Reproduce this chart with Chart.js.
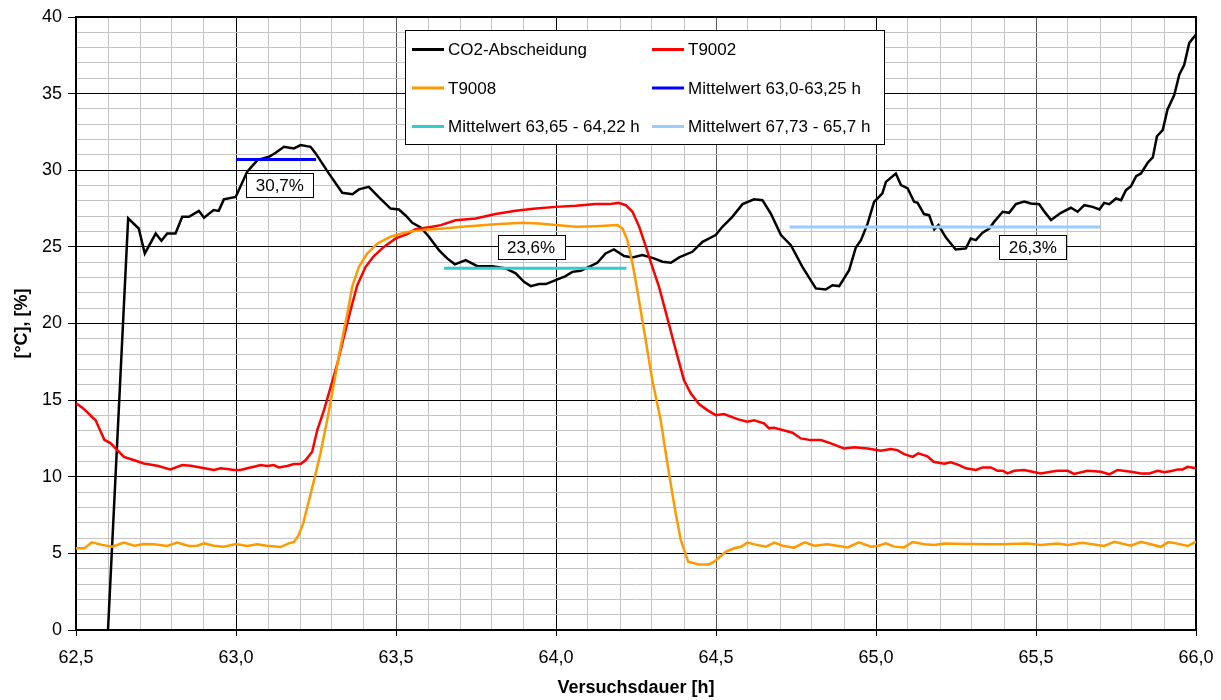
<!DOCTYPE html>
<html>
<head>
<meta charset="utf-8">
<script src="https://cdn.jsdelivr.net/npm/chart.js@4.4.0/dist/chart.umd.min.js"></script>
<style>
  body { margin: 0; background: #fff; }
  #wrap { width: 1221px; height: 700px; }
</style>
</head>
<body>
<div id="wrap"><canvas id="chart" width="1221" height="700"></canvas></div>
<script>
// CO2-Abscheidung [%]
const co2X = [62.600, 62.663, 62.696, 62.715, 62.749, 62.767, 62.785, 62.811, 62.832, 62.853,
  62.884, 62.900, 62.930, 62.946, 62.962, 62.999, 63.035, 63.067, 63.103, 63.124,
  63.150, 63.181, 63.202, 63.233, 63.249, 63.290, 63.332, 63.364, 63.384, 63.415,
  63.447, 63.483, 63.509, 63.530, 63.551, 63.577, 63.603, 63.634, 63.660, 63.684,
  63.718, 63.754, 63.801, 63.843, 63.874, 63.900, 63.921, 63.947, 63.968, 63.999,
  64.030, 64.051, 64.077, 64.103, 64.129, 64.155, 64.181, 64.213, 64.239, 64.270,
  64.306, 64.333, 64.359, 64.385, 64.426, 64.458, 64.499, 64.520, 64.551, 64.583,
  64.619, 64.645, 64.671, 64.703, 64.734, 64.770, 64.812, 64.843, 64.864, 64.885,
  64.916, 64.937, 64.953, 64.974, 64.994, 65.020, 65.031, 65.062, 65.078, 65.099,
  65.119, 65.130, 65.150, 65.166, 65.182, 65.195, 65.218, 65.249, 65.281, 65.296,
  65.312, 65.333, 65.354, 65.369, 65.396, 65.416, 65.437, 65.463, 65.484, 65.510,
  65.528, 65.547, 65.578, 65.609, 65.630, 65.651, 65.677, 65.698, 65.713, 65.729,
  65.750, 65.766, 65.781, 65.797, 65.813, 65.828, 65.849, 65.865, 65.878, 65.896,
  65.911, 65.932, 65.948, 65.963, 65.979, 66.000];
const co2Y = [0.00, 26.86, 26.20, 24.57, 25.87, 25.40, 25.87, 25.87, 26.96, 26.96,
  27.35, 26.90, 27.40, 27.35, 28.10, 28.26, 29.90, 30.66, 30.88, 31.14,
  31.53, 31.42, 31.64, 31.53, 31.10, 29.80, 28.53, 28.44, 28.75, 28.92,
  28.23, 27.50, 27.44, 27.05, 26.57, 26.27, 25.66, 24.79, 24.25, 23.86,
  24.14, 23.74, 23.74, 23.59, 23.27, 22.72, 22.44, 22.57, 22.57, 22.83,
  23.09, 23.37, 23.44, 23.70, 23.96, 24.57, 24.83, 24.40, 24.31, 24.46,
  24.25, 24.03, 23.96, 24.31, 24.68, 25.33, 25.77, 26.31, 26.96, 27.79,
  28.10, 28.05, 27.18, 25.77, 25.11, 23.70, 22.29, 22.22, 22.50, 22.44,
  23.48, 24.96, 25.44, 26.53, 27.94, 28.49, 29.24, 29.79, 29.03, 28.81,
  27.94, 27.87, 27.14, 27.07, 26.14, 26.42, 25.62, 24.83, 24.90, 25.55,
  25.44, 25.92, 26.20, 26.63, 27.29, 27.22, 27.79, 27.96, 27.83, 27.78,
  27.25, 26.75, 27.22, 27.55, 27.29, 27.72, 27.61, 27.44, 27.87, 27.79,
  28.16, 28.05, 28.70, 28.96, 29.62, 29.79, 30.49, 30.84, 32.22, 32.62,
  33.97, 34.90, 36.25, 36.86, 38.31, 38.85];

// T9002 [°C]
const t9002X = [62.500, 62.520, 62.536, 62.550, 62.561, 62.576, 62.589, 62.608, 62.629, 62.650,
  62.680, 62.712, 62.754, 62.795, 62.832, 62.859, 62.889, 62.931, 62.952, 62.973,
  62.993, 63.014, 63.035, 63.056, 63.077, 63.097, 63.118, 63.134, 63.160, 63.181,
  63.202, 63.218, 63.238, 63.254, 63.275, 63.296, 63.317, 63.337, 63.358, 63.379,
  63.405, 63.431, 63.462, 63.499, 63.535, 63.561, 63.608, 63.640, 63.686, 63.749,
  63.811, 63.874, 63.937, 63.999, 64.062, 64.124, 64.166, 64.195, 64.218, 64.239,
  64.260, 64.281, 64.301, 64.322, 64.345, 64.370, 64.400, 64.421, 64.447, 64.473,
  64.499, 64.525, 64.567, 64.598, 64.619, 64.650, 64.666, 64.681, 64.708, 64.739,
  64.765, 64.796, 64.828, 64.859, 64.900, 64.932, 64.974, 65.015, 65.046, 65.067,
  65.088, 65.115, 65.132, 65.161, 65.180, 65.213, 65.234, 65.260, 65.281, 65.312,
  65.333, 65.359, 65.380, 65.396, 65.411, 65.432, 65.463, 65.489, 65.515, 65.546,
  65.567, 65.599, 65.619, 65.661, 65.703, 65.729, 65.755, 65.797, 65.828, 65.854,
  65.880, 65.901, 65.927, 65.943, 65.958, 65.974, 66.000];
const t9002Y = [14.80, 14.50, 14.20, 13.90, 13.70, 13.00, 12.40, 12.20, 11.74, 11.30,
  11.09, 10.87, 10.72, 10.48, 10.76, 10.72, 10.61, 10.44, 10.55, 10.51,
  10.44, 10.44, 10.55, 10.65, 10.76, 10.70, 10.76, 10.61, 10.70, 10.83,
  10.83, 11.09, 11.63, 13.05, 14.35, 15.87, 17.40, 19.13, 20.87, 22.50,
  23.70, 24.40, 25.00, 25.55, 25.83, 26.15, 26.30, 26.42, 26.74, 26.85,
  27.14, 27.35, 27.50, 27.61, 27.68, 27.79, 27.79, 27.87, 27.72, 27.29,
  26.31, 25.00, 23.70, 22.39, 20.60, 18.60, 16.30, 15.44, 14.74, 14.35,
  14.02, 14.09, 13.76, 13.59, 13.68, 13.48, 13.16, 13.20, 13.05, 12.87,
  12.50, 12.39, 12.39, 12.18, 11.85, 11.92, 11.85, 11.70, 11.81, 11.74,
  11.48, 11.30, 11.53, 11.33, 10.98, 10.85, 10.94, 10.76, 10.55, 10.44,
  10.61, 10.61, 10.39, 10.39, 10.22, 10.39, 10.44, 10.33, 10.22, 10.33,
  10.39, 10.39, 10.18, 10.39, 10.33, 10.16, 10.44, 10.33, 10.22, 10.22,
  10.39, 10.29, 10.39, 10.48, 10.48, 10.65, 10.55];

// T9008 [°C]
const t9008X = [62.500, 62.526, 62.550, 62.578, 62.613, 62.650, 62.682, 62.712, 62.744, 62.785,
  62.816, 62.853, 62.879, 62.900, 62.931, 62.962, 62.999, 63.035, 63.066, 63.097,
  63.139, 63.165, 63.181, 63.195, 63.210, 63.223, 63.244, 63.264, 63.285, 63.306,
  63.327, 63.348, 63.363, 63.384, 63.410, 63.442, 63.483, 63.535, 63.598, 63.640,
  63.707, 63.811, 63.895, 63.947, 63.999, 64.062, 64.124, 64.192, 64.208, 64.223,
  64.239, 64.254, 64.278, 64.301, 64.327, 64.353, 64.374, 64.390, 64.413, 64.447,
  64.478, 64.494, 64.531, 64.557, 64.578, 64.598, 64.624, 64.656, 64.682, 64.708,
  64.744, 64.777, 64.807, 64.848, 64.879, 64.911, 64.947, 64.984, 65.005, 65.031,
  65.057, 65.088, 65.114, 65.151, 65.182, 65.213, 65.286, 65.390, 65.474, 65.515,
  65.567, 65.599, 65.645, 65.713, 65.745, 65.797, 65.828, 65.890, 65.912, 65.927,
  65.974, 66.000];
const t9008Y = [5.33, 5.33, 5.72, 5.57, 5.44, 5.70, 5.50, 5.61, 5.59, 5.48,
  5.70, 5.48, 5.50, 5.65, 5.50, 5.44, 5.61, 5.48, 5.59, 5.50,
  5.41, 5.65, 5.74, 6.15, 6.96, 8.04, 9.78, 11.53, 13.70, 16.09,
  18.48, 20.66, 22.39, 23.70, 24.57, 25.22, 25.66, 25.98, 26.14, 26.18,
  26.31, 26.48, 26.57, 26.53, 26.42, 26.31, 26.35, 26.42, 26.20, 25.44,
  23.92, 22.18, 19.20, 16.30, 13.70, 10.22, 7.61, 5.87, 4.46, 4.28,
  4.28, 4.46, 5.11, 5.33, 5.43, 5.70, 5.57, 5.44, 5.70, 5.50,
  5.37, 5.72, 5.50, 5.59, 5.50, 5.39, 5.72, 5.44, 5.48, 5.65,
  5.44, 5.39, 5.74, 5.60, 5.55, 5.65, 5.61, 5.59, 5.65, 5.55,
  5.65, 5.55, 5.70, 5.48, 5.76, 5.50, 5.76, 5.43, 5.72, 5.70,
  5.48, 5.76];

// Mittelwerte: Zeitbereich [h] und Wert [%]
const meanRanges = [[63.0, 63.25], [63.65, 64.22], [64.73, 65.7]];
const meanValues = [30.7, 23.6, 26.3];
const meanLabels = ['30,7%', '23,6%', '26,3%'];

const seriesNames = ['CO2-Abscheidung', 'T9002', 'T9008',
  'Mittelwert 63,0-63,25 h', 'Mittelwert 63,65 - 64,22 h', 'Mittelwert 67,73 - 65,7 h'];
const seriesColors = ['#000000', '#ff0000', '#ff9900', '#0000ff', '#33cccc', '#99ccff'];

const FONT = '"Liberation Sans", Arial, sans-serif';
Chart.defaults.font.family = FONT;
Chart.defaults.color = '#000';

function toPoints(xs, ys) {
  return xs.map((x, i) => ({ x: x, y: ys[i] }));
}

function isMajorX(v) {
  return Math.abs(v * 2 - Math.round(v * 2)) < 1e-6;
}

function isMajorY(v) {
  return Math.abs(v / 5 - Math.round(v / 5)) < 1e-6;
}

const lineSets = [
  toPoints(co2X, co2Y),
  toPoints(t9002X, t9002Y),
  toPoints(t9008X, t9008Y)
];
meanRanges.forEach((r, i) => {
  lineSets.push(toPoints(r, [meanValues[i], meanValues[i]]));
});

const datasets = lineSets.map((pts, i) => ({
  label: seriesNames[i],
  data: pts,
  borderColor: seriesColors[i],
  backgroundColor: seriesColors[i],
  borderWidth: i < 3 ? 2.5 : 3,
  pointRadius: 0,
  tension: 0,
  fill: false,
  order: 6 - i
}));

// plot frame
const framePlugin = {
  id: 'frame',
  beforeDatasetsDraw(chart) {
    const { ctx, chartArea: a } = chart;
    ctx.save();
    ctx.strokeStyle = '#000';
    ctx.lineWidth = 2;
    ctx.strokeRect(a.left, a.top, a.right - a.left, a.bottom - a.top);
    ctx.restore();
  }
};

// boxed value labels next to the mean lines
const labelAnchors = [{ x: 63.137, dy: 25.6 }, { x: 63.922, dy: -21 }, { x: 65.49, dy: 20 }];

const valueLabelPlugin = {
  id: 'valueLabels',
  afterDatasetsDraw(chart) {
    const { ctx, scales } = chart;
    ctx.save();
    ctx.font = '17px ' + FONT;
    ctx.textAlign = 'center';
    ctx.textBaseline = 'middle';
    meanLabels.forEach((txt, i) => {
      const cx = scales.x.getPixelForValue(labelAnchors[i].x);
      const cy = scales.y.getPixelForValue(meanValues[i]) + labelAnchors[i].dy;
      const w = Math.round(ctx.measureText(txt).width + 19);
      const h = 24;
      const bx = Math.round(cx - w / 2) + 0.5;
      const by = Math.round(cy - h / 2) + 0.5;
      ctx.fillStyle = '#fff';
      ctx.fillRect(bx, by, w, h);
      ctx.strokeStyle = '#000';
      ctx.lineWidth = 1;
      ctx.strokeRect(bx, by, w, h);
      ctx.fillStyle = '#000';
      ctx.fillText(txt, cx, cy + 1);
    });
    ctx.restore();
  }
};

// legend box in two columns inside the plot
const legendPlugin = {
  id: 'boxLegend',
  afterDatasetsDraw(chart) {
    const { ctx } = chart;
    const box = { x: 405.5, y: 30.5, w: 479, h: 114 };
    const cols = [412, 652];
    const rows = [49.5, 88, 126.5];
    ctx.save();
    ctx.fillStyle = '#fff';
    ctx.fillRect(box.x, box.y, box.w, box.h);
    ctx.strokeStyle = '#000';
    ctx.lineWidth = 1;
    ctx.strokeRect(box.x, box.y, box.w, box.h);
    ctx.font = '17px ' + FONT;
    ctx.textAlign = 'left';
    ctx.textBaseline = 'middle';
    seriesNames.forEach((name, i) => {
      const lx = cols[i % 2];
      const ly = rows[Math.floor(i / 2)];
      ctx.strokeStyle = seriesColors[i];
      ctx.lineWidth = 3;
      ctx.beginPath();
      ctx.moveTo(lx, ly);
      ctx.lineTo(lx + 32, ly);
      ctx.stroke();
      ctx.fillStyle = '#000';
      ctx.fillText(name, lx + 36, ly + 1);
    });
    ctx.restore();
  }
};

new Chart(document.getElementById('chart'), {
  type: 'line',
  data: { datasets: datasets },
  options: {
    responsive: false,
    animation: false,
    layout: { padding: { top: 17, right: 25, left: 0, bottom: 0 } },
    plugins: {
      legend: { display: false },
      tooltip: { enabled: false }
    },
    scales: {
      x: {
        type: 'linear',
        min: 62.5,
        max: 66,
        ticks: {
          stepSize: 0.1,
          autoSkip: false,
          maxRotation: 0,
          padding: 11,
          font: { size: 18 },
          color: '#000',
          callback: v => isMajorX(v) ? v.toFixed(1).replace('.', ',') : ''
        },
        grid: {
          color: c => isMajorX(c.tick.value) ? (Math.abs(c.tick.value - Math.round(c.tick.value)) < 1e-6 ? '#000' : '#555') : '#c4c4c4',
          lineWidth: 1,
          tickLength: 6,
          tickColor: c => isMajorX(c.tick.value) ? '#000' : 'rgba(0,0,0,0)'
        },
        border: { color: '#000', width: 2 },
        title: {
          display: true,
          text: 'Versuchsdauer [h]',
          color: '#000',
          font: { size: 18, weight: 'bold' },
          padding: { top: 0, bottom: 1 }
        },
        afterFit: s => {
          s.height = 70;
          s.paddingLeft = 0;
          s.paddingRight = 0;
        }
      },
      y: {
        min: 0,
        max: 40,
        ticks: {
          stepSize: 1,
          autoSkip: false,
          padding: 6,
          font: { size: 18 },
          color: '#000',
          callback: v => isMajorY(v) ? String(Math.round(v)) : ''
        },
        grid: {
          color: c => isMajorY(c.tick.value) ? '#000' : '#c4c4c4',
          lineWidth: 1,
          tickLength: 8,
          tickColor: c => isMajorY(c.tick.value) ? '#000' : 'rgba(0,0,0,0)'
        },
        border: { color: '#000', width: 2 },
        title: {
          display: true,
          text: '[°C], [%]',
          color: '#000',
          font: { size: 18, weight: 'bold' },
          padding: { top: 11, bottom: 0 }
        },
        afterFit: s => {
          s.width = 76;
          s.paddingTop = 0;
          s.paddingBottom = 0;
        }
      }
    }
  },
  plugins: [framePlugin, valueLabelPlugin, legendPlugin]
});
</script>
</body>
</html>
